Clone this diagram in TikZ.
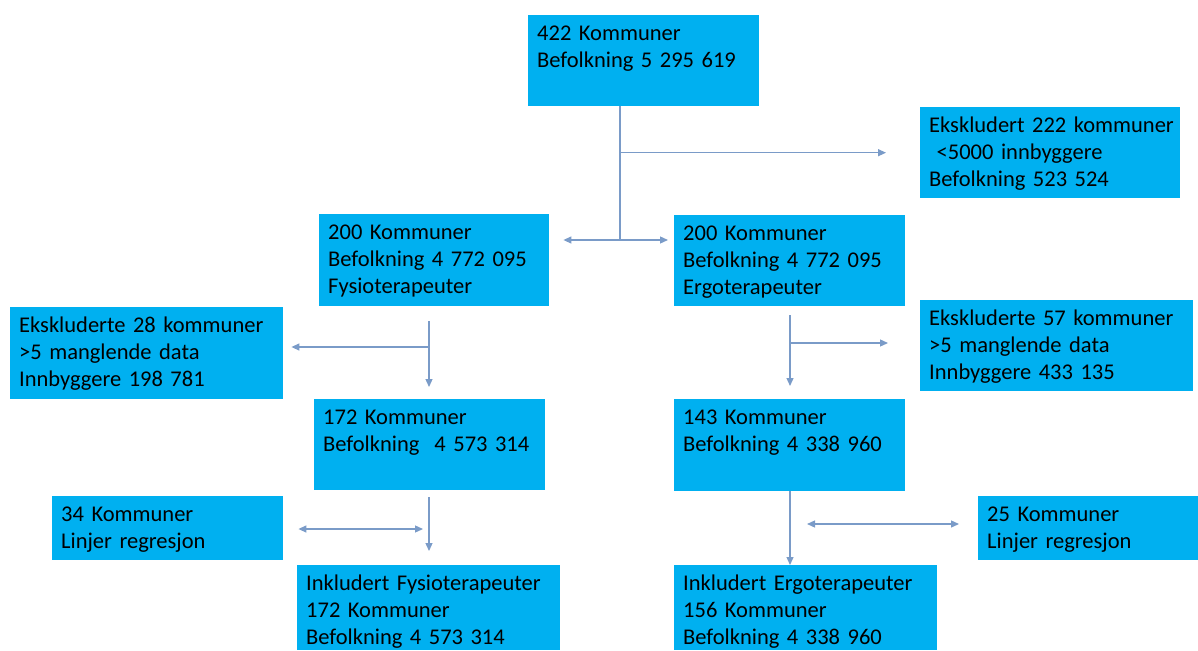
\documentclass[tikz,border=0pt]{standalone}
\usepackage{fontspec}
\setmainfont{Carlito}[WordSpace=0.55]
\usepackage{tikz}
\usetikzlibrary{arrows.meta}

\definecolor{boxblue}{RGB}{0,176,240}
\definecolor{linkblue}{RGB}{122,155,200}

\tikzset{flow/.style={fill=boxblue, anchor=north west, inner sep=0pt, align=left,
                      text height=25pt, font=\fontsize{22.5}{27}\selectfont,
                      execute at begin node={\leftskip=9pt\hyphenpenalty=10000}},
         conn/.style={draw=linkblue, line width=1.3pt}}

\begin{document}
\begin{tikzpicture}[x=1pt,y=-1pt,>={Triangle[length=8pt,width=7pt]}]
    \useasboundingbox (0,0) rectangle (1198,650);
    % boxes
    \node[flow, text width=231pt, text depth=66pt] (top) at (528,15) {422 Kommuner\\Befolkning 5 295 619};
    \node[flow, text width=260pt, text depth=66pt] (ex222) at (920,107) {Ekskludert 222 kommuner\\~<5000 innbyggere\\Befolkning 523 524};
    \node[flow, text width=230pt, text depth=67pt] (fys200) at (319,214) {200 Kommuner\\Befolkning 4 772 095\\Fysioterapeuter};
    \node[flow, text width=231pt, text depth=66pt] (erg200) at (674,215) {200 Kommuner\\Befolkning 4 772 095\\Ergoterapeuter};
    \node[flow, text width=273pt, text depth=67pt] (ex28) at (10,307) {Ekskluderte 28 kommuner\\>5 manglende data\\Innbyggere 198 781};
    \node[flow, text width=273pt, text depth=66pt] (ex57) at (920,300) {Ekskluderte 57 kommuner\\>5 manglende data\\Innbyggere 433 135};
    \node[flow, text width=231pt, text depth=66pt] (fys172) at (314,399) {172 Kommuner\\Befolkning~~4 573 314};
    \node[flow, text width=231pt, text depth=67pt] (erg143) at (674,399) {143 Kommuner\\Befolkning 4 338 960};
    \node[flow, text width=231pt, text depth=39pt] (k34) at (52,496) {34 Kommuner\\Linjer regresjon};
    \node[flow, text width=220pt, text depth=39pt] (k25) at (978,496) {25 Kommuner\\Linjer regresjon};
    \node[flow, text width=263pt, text depth=60pt] (inclF) at (297,565) {Inkludert Fysioterapeuter\\172 Kommuner\\Befolkning 4 573 314};
    \node[flow, text width=263pt, text depth=60pt] (inclE) at (674,565) {Inkludert Ergoterapeuter\\156 Kommuner\\Befolkning 4 338 960};

    % junctions
    \coordinate (j1) at (620,240);
    \coordinate (j2) at (429,347);
    \coordinate (j3) at (790,343);
    \coordinate (j4) at (429,529);
    \coordinate (j5) at (790,524);

    % top split
    \draw[conn] (top.south -| j1) -- (j1);
    \draw[conn,->] (j1 |- ex222.west) -- ([xshift=-34pt]ex222.west);
    \draw[conn,<->] ([xshift=14pt]fys200.east |- j1) -- ([xshift=-6pt]erg200.west |- j1);

    % fysioterapeuter
    \draw[conn,->] ([yshift=-15pt]fys200.south -| j2) -- ([yshift=12pt]fys172.north -| j2);
    \draw[conn,->] (j2) -- ([xshift=8pt]ex28.east |- j2);
    \draw[conn,->] ([yshift=-7pt]fys172.south -| j4) -- ([yshift=14pt]inclF.north -| j4);
    \draw[conn,<->] ([xshift=15pt]k34.east |- j4) -- ([xshift=-6pt]j4);

    % ergoterapeuter
    \draw[conn,->] ([yshift=-9pt]erg200.south -| j3) -- ([yshift=13pt]erg143.north -| j3);
    \draw[conn,->] (j3) -- ([xshift=-32pt]ex57.west |- j3);
    \draw[conn,->] (erg143.south -| j5) -- (inclE.north -| j5);
    \draw[conn,<->] ([xshift=17pt]j5) -- ([xshift=-19pt]k25.west |- j5);
\end{tikzpicture}
\end{document}
